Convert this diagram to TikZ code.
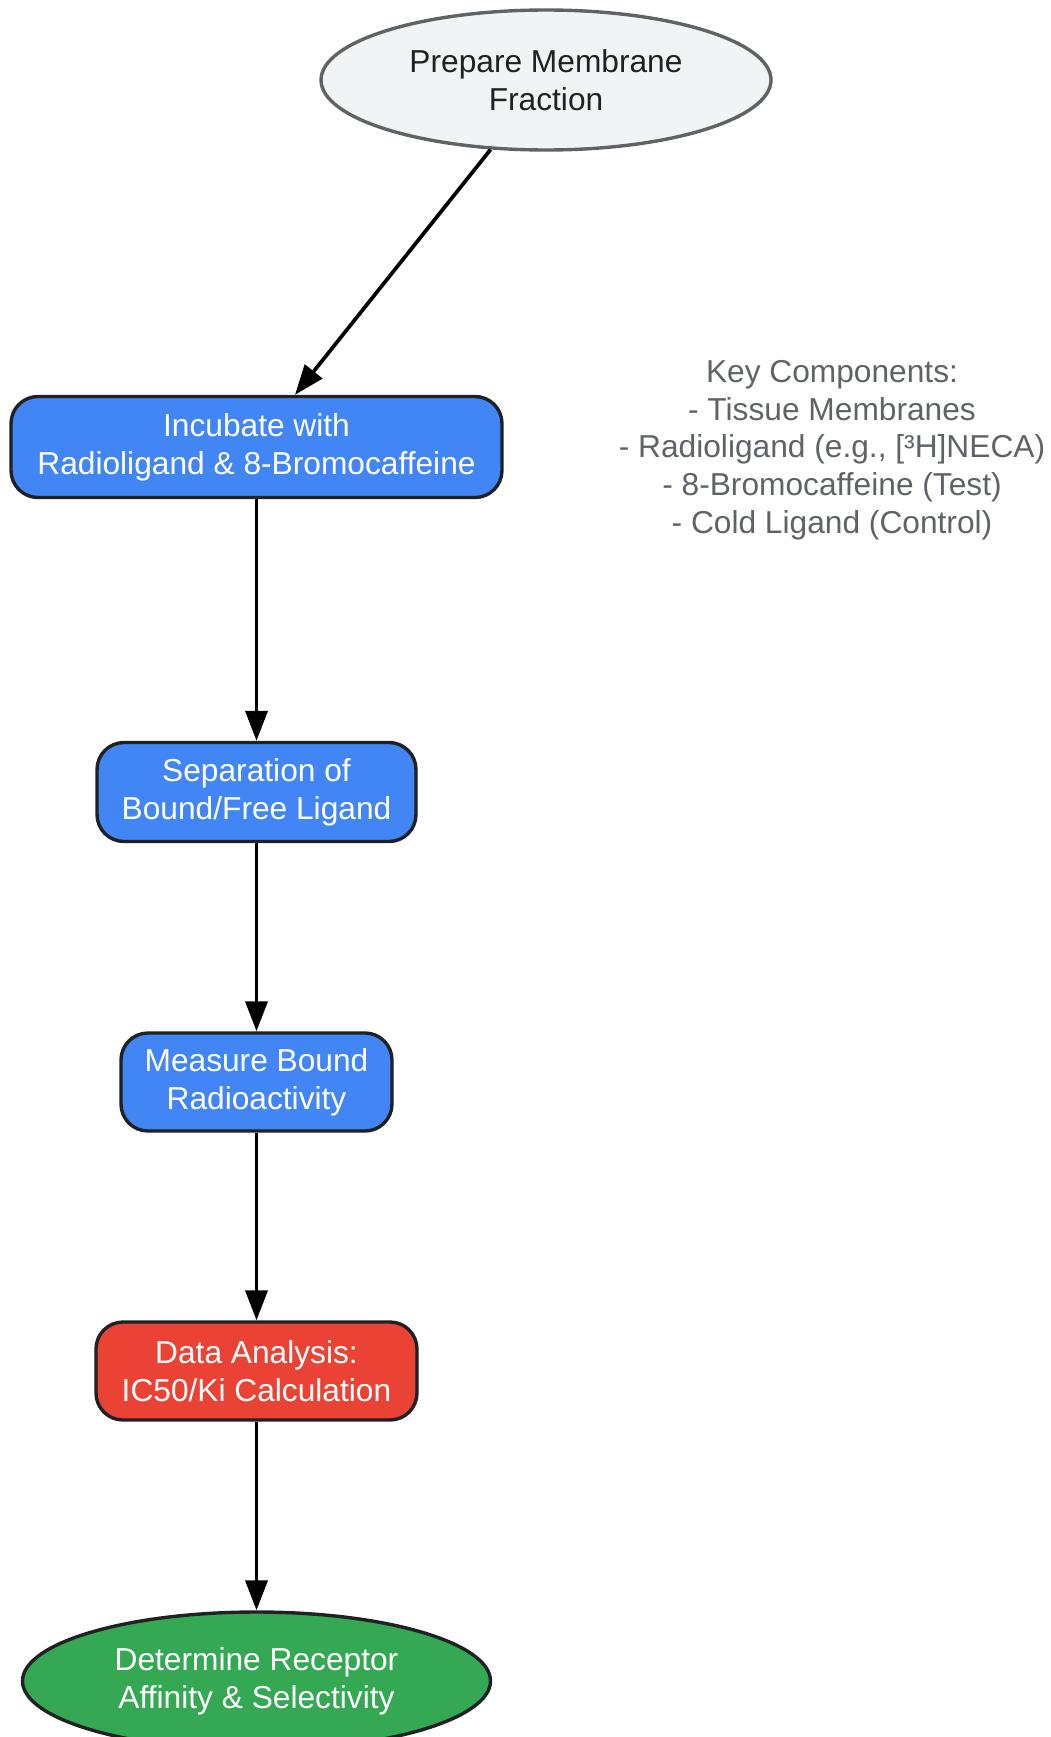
\documentclass[tikz,border=0pt]{standalone}
\usepackage{fontspec}
\setmainfont{Liberation Sans}
\usetikzlibrary{shapes.geometric,arrows.meta,calc}
\definecolor{greyfill}{HTML}{F1F3F4}
\definecolor{greyline}{HTML}{5F6368}
\definecolor{darkline}{HTML}{202124}
\definecolor{stepblue}{HTML}{4285F4}
\definecolor{stepred}{HTML}{EA4335}
\definecolor{stepgreen}{HTML}{34A853}
\tikzset{
  every node/.style={font=\fontsize{31.7}{37.7}\selectfont, align=center, inner sep=0pt},
  startnode/.style={ellipse, draw=greyline, fill=greyfill, text=darkline, line width=3.4pt},
  endnode/.style={ellipse, draw=darkline, fill=stepgreen, text=white, line width=3.4pt},
  stepbox/.style={rectangle, rounded corners=27pt, draw=darkline, fill=stepblue, text=white, line width=3.4pt},
  flow/.style={line width=3.7pt, -{Triangle[length=30pt,width=22pt]}}
}
\begin{document}
\begin{tikzpicture}[x=1pt,y=-1pt]
\useasboundingbox (0,0) rectangle (1051,1737);
\node[startnode, minimum width=450pt, minimum height=140pt] (prep) at (546,80) {Prepare Membrane\\Fraction};
\node[stepbox, minimum width=491pt, minimum height=101pt] (incubate) at (256.5,447) {Incubate with\\Radioligand \& 8-Bromocaffeine};
\node[stepbox, minimum width=319pt, minimum height=99pt] (separate) at (256.5,792) {Separation of\\Bound/Free Ligand};
\node[stepbox, minimum width=271pt, minimum height=98pt] (measure) at (256.5,1082) {Measure Bound\\Radioactivity};
\node[stepbox, fill=stepred, minimum width=321pt, minimum height=98pt] (analysis) at (256.5,1371) {Data Analysis:\\IC50/Ki Calculation};
\node[endnode, minimum width=468pt, minimum height=138pt] (affinity) at (256.5,1681) {Determine Receptor\\Affinity \& Selectivity};
\node[text=greyline] (key) at (832,450) {Key Components:\\- Tissue Membranes\\- Radioligand (e.g., [³H]NECA)\\- 8-Bromocaffeine (Test)\\- Cold Ligand (Control)};
% arrows
\coordinate (inctop) at ($(incubate.north)+(38.5,0)$);
\draw[flow] (prep) -- (inctop);
\draw[flow] (incubate) -- (separate);
\draw[flow] (separate) -- (measure);
\draw[flow] (measure) -- (analysis);
\draw[flow] (analysis) -- (affinity);
\end{tikzpicture}
\end{document}
